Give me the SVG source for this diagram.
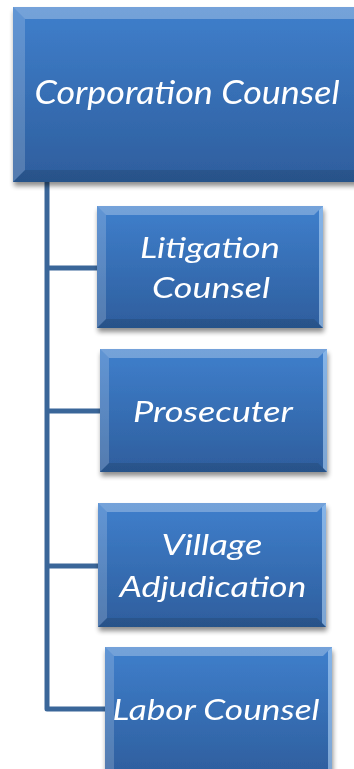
<svg xmlns="http://www.w3.org/2000/svg" width="354" height="769" viewBox="0 0 354 769">
  <defs>
    <linearGradient id="face" x1="0" y1="0" x2="0" y2="1">
      <stop offset="0" stop-color="#3f7fcc"/>
      <stop offset="1" stop-color="#2e5e9d"/>
    </linearGradient>
    <filter id="shadow" x="-10%" y="-10%" width="125%" height="130%">
      <feGaussianBlur in="SourceAlpha" stdDeviation="2.5"/>
      <feOffset dx="1" dy="4" result="b"/>
      <feComponentTransfer><feFuncA type="linear" slope="0.45"/></feComponentTransfer>
      <feMerge><feMergeNode/><feMergeNode in="SourceGraphic"/></feMerge>
    </filter>
    <style>
      .box { fill: url(#face); }
      .bt { fill: #ffffff; opacity: 0.28; }
      .bl { fill: #ffffff; opacity: 0.18; }
      .br { fill: #bfe0ff; opacity: 0.55; }
      .bb { fill: #000000; opacity: 0.12; }
      .lbl { font-family: Lato, "Open Sans", "Liberation Sans", sans-serif; font-style: italic; fill: #ffffff; text-anchor: middle; }
      .wire { fill: none; stroke: #3a6699; stroke-width: 5; stroke-linejoin: round; }
    </style>
  </defs>

  <rect width="354" height="769" fill="#ffffff"/>

  <!-- org chart connectors -->
  <g id="connectors">
    <path class="wire" d="M47 182 V709 H106"/>
    <path class="wire" d="M47 268 H98"/>
    <path class="wire" d="M47 411 H101"/>
    <path class="wire" d="M47 566 H99"/>
  </g>

  <g id="corporation-counsel" filter="url(#shadow)">
    <rect class="box" x="13" y="7" width="360" height="175"/>
    <polygon class="bt" points="13,7 373,7 362,19 25,19"/>
    <polygon class="bl" points="13,7 25,19 25,170 13,182"/>
    <polygon class="bb" points="13,182 25,170 362,170 373,182"/>
    <text class="lbl" x="187" y="104" font-size="32" textLength="305" lengthAdjust="spacingAndGlyphs">Corporation Counsel</text>
  </g>

  <g id="litigation-counsel" filter="url(#shadow)">
    <rect class="box" x="97" y="206" width="226" height="122"/>
    <polygon class="bt" points="97,206 323,206 314,215 106,215"/>
    <polygon class="bl" points="97,206 106,215 106,319 97,328"/>
    <polygon class="br" points="323,206 323,328 319,324 319,210"/>
    <polygon class="bb" points="97,328 106,319 314,319 323,328"/>
    <text class="lbl" x="210" y="258" font-size="29" textLength="140" lengthAdjust="spacingAndGlyphs">Litigation</text>
    <text class="lbl" x="211" y="298" font-size="29" textLength="118" lengthAdjust="spacingAndGlyphs">Counsel</text>
  </g>

  <g id="prosecuter" filter="url(#shadow)">
    <rect class="box" x="100" y="349" width="227" height="123"/>
    <polygon class="bt" points="100,349 327,349 318,358 109,358"/>
    <polygon class="bl" points="100,349 109,358 109,463 100,472"/>
    <polygon class="br" points="327,349 327,472 323,468 323,353"/>
    <polygon class="bb" points="100,472 109,463 318,463 327,472"/>
    <text class="lbl" x="213" y="422" font-size="29" textLength="160" lengthAdjust="spacingAndGlyphs">Prosecuter</text>
  </g>

  <g id="village-adjudication" filter="url(#shadow)">
    <rect class="box" x="98" y="503" width="228" height="124"/>
    <polygon class="bt" points="98,503 326,503 317,512 107,512"/>
    <polygon class="bl" points="98,503 107,512 107,618 98,627"/>
    <polygon class="br" points="326,503 326,627 322,623 322,507"/>
    <polygon class="bb" points="98,627 107,618 317,618 326,627"/>
    <text class="lbl" x="212" y="555" font-size="29" textLength="101" lengthAdjust="spacingAndGlyphs">Village</text>
    <text class="lbl" x="213" y="597" font-size="29" textLength="187" lengthAdjust="spacingAndGlyphs">Adjudication</text>
  </g>

  <g id="labor-counsel" filter="url(#shadow)">
    <rect class="box" x="105" y="647" width="227" height="130"/>
    <polygon class="bt" points="105,647 332,647 323,656 114,656"/>
    <polygon class="bl" points="105,647 114,656 114,777 105,777"/>
    <polygon class="br" points="332,647 332,777 328,777 328,651"/>
    <text class="lbl" x="216" y="720" font-size="29" textLength="207" lengthAdjust="spacingAndGlyphs">Labor Counsel</text>
  </g>
</svg>
